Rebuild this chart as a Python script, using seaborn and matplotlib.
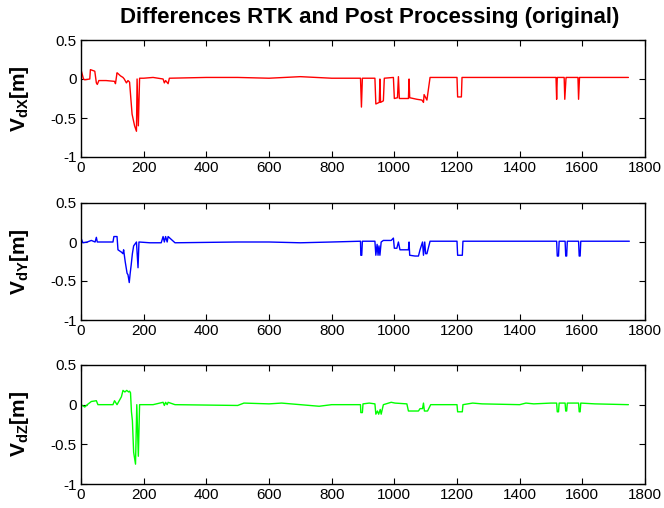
import numpy as np
import pandas as pd
import matplotlib
matplotlib.use('Agg')
import matplotlib.pyplot as plt
import seaborn as sns

# Differences RTK vs post processing (breakpoints)

dx_t = [0, 8, 12, 28, 30, 44, 49, 52, 57, 80, 107, 110, 115, 118, 126, 134, 138, 145, 150, 155,
        163, 171, 177, 179, 183, 187, 200, 230, 262, 266, 270, 278, 282, 400, 500, 600, 700, 800,
        892, 895, 898, 938, 941, 952, 954, 956, 965, 968, 997, 1000, 1010, 1013, 1016, 1045, 1047,
        1049, 1072, 1088, 1093, 1095, 1104, 1114, 1200, 1202, 1214, 1216, 1400, 1516, 1518, 1520,
        1522, 1542, 1544, 1548, 1550, 1586, 1588, 1591, 1593, 1747]
dx_v = [0.12, 0.0, -0.01, 0.0, 0.12, 0.1, -0.05, -0.07, -0.02, -0.02, -0.03, -0.06, 0.08, 0.07,
        0.04, 0.02, 0.0, -0.05, -0.02, -0.04, -0.45, -0.6, -0.67, 0.0, -0.6, 0.01, 0.01, 0.02,
        0.0, -0.05, -0.02, -0.06, 0.01, 0.02, 0.02, 0.01, 0.03, 0.01, 0.01, -0.36, 0.01, 0.01,
        -0.32, -0.3, 0.0, -0.3, -0.28, 0.01, 0.02, -0.25, -0.24, 0.03, -0.25, -0.25, 0.0, -0.24,
        -0.26, -0.27, -0.3, -0.2, -0.27, 0.02, 0.02, -0.23, -0.23, 0.02, 0.02, 0.02, -0.26, 0.02,
        0.02, 0.02, -0.26, 0.02, 0.02, 0.02, -0.26, 0.02, 0.02, 0.02]

dy_t = [0, 6, 20, 33, 45, 49, 52, 80, 102, 105, 115, 118, 129, 134, 136, 141, 147, 150, 154, 157,
        160, 164, 168, 177, 182, 185, 220, 256, 262, 266, 270, 275, 278, 300, 500, 600, 700, 800,
        892, 893, 896, 898, 938, 941, 945, 948, 951, 954, 958, 965, 990, 997, 1000, 1008, 1013,
        1018, 1045, 1047, 1049, 1066, 1077, 1082, 1090, 1093, 1097, 1100, 1104, 1114, 1200, 1202,
        1217, 1219, 1400, 1518, 1520, 1524, 1526, 1545, 1547, 1550, 1552, 1588, 1590, 1593, 1595,
        1750]
dy_v = [0.05, -0.01, 0.0, 0.02, 0.0, 0.06, 0.0, 0.0, 0.0, 0.07, 0.07, -0.1, -0.13, -0.15, -0.1,
        -0.25, -0.4, -0.42, -0.52, -0.4, -0.3, -0.15, -0.05, 0.0, -0.33, 0.0, -0.01, -0.01, 0.07,
        0.0, 0.07, 0.0, 0.07, -0.01, 0.0, 0.0, -0.01, 0.0, 0.01, -0.17, -0.17, 0.01, 0.01, -0.17,
        -0.03, -0.17, -0.05, -0.17, 0.0, 0.02, 0.02, 0.05, -0.08, -0.08, 0.0, -0.1, -0.1, 0.0,
        -0.17, -0.18, -0.18, -0.1, 0.0, -0.17, 0.0, -0.15, -0.15, 0.01, 0.01, -0.17, -0.17, 0.01,
        0.01, 0.01, -0.18, -0.18, 0.01, 0.01, -0.18, -0.18, 0.01, 0.01, -0.18, -0.18, 0.01, 0.01]

dz_t = [0, 12, 20, 33, 49, 54, 102, 107, 115, 129, 134, 140, 146, 152, 155, 158, 161, 164, 168,
        174, 178, 183, 187, 230, 262, 266, 270, 275, 278, 300, 500, 520, 600, 640, 700, 760, 800,
        892, 893, 898, 900, 920, 938, 941, 946, 950, 955, 958, 965, 990, 1002, 1040, 1045, 1077,
        1082, 1090, 1093, 1096, 1106, 1116, 1200, 1202, 1217, 1219, 1250, 1280, 1400, 1420, 1445,
        1500, 1518, 1520, 1524, 1526, 1545, 1547, 1550, 1552, 1588, 1590, 1593, 1595, 1640, 1747]
dz_v = [0.0, -0.03, 0.0, 0.04, 0.05, 0.0, 0.0, 0.05, 0.0, 0.1, 0.18, 0.16, 0.18, 0.16, 0.17, 0.15,
        -0.09, -0.2, -0.6, -0.75, 0.0, -0.65, 0.0, 0.0, 0.03, -0.01, 0.03, 0.0, 0.03, 0.0, -0.01,
        0.02, 0.01, 0.02, 0.0, -0.02, 0.0, 0.0, -0.1, -0.1, 0.01, 0.02, 0.01, -0.12, -0.08, -0.12,
        -0.06, -0.12, 0.0, 0.03, 0.02, 0.01, -0.08, -0.08, -0.05, -0.05, 0.02, -0.08, -0.08, 0.0,
        0.0, -0.09, -0.09, 0.0, 0.02, 0.01, 0.0, 0.02, 0.01, 0.02, 0.02, -0.09, -0.09, 0.02, 0.02,
        -0.08, -0.08, 0.02, 0.02, -0.09, -0.09, 0.02, 0.01, 0.0]

series = [
    (dx_t, dx_v, '#ff0000', r'$\mathbf{V_{dX}[m]}$'),
    (dy_t, dy_v, '#0000ff', r'$\mathbf{V_{dY}[m]}$'),
    (dz_t, dz_v, '#00ff00', r'$\mathbf{V_{dZ}[m]}$'),
]

sns.set_style('ticks', rc={'text.color': 'black', 'axes.labelcolor': 'black',
                           'xtick.color': 'black', 'ytick.color': 'black',
                           'axes.edgecolor': 'black'})
plt.rcParams['font.family'] = ['Liberation Sans', 'DejaVu Sans']
plt.rcParams['mathtext.fontset'] = 'custom'
plt.rcParams['mathtext.rm'] = 'Liberation Sans'
plt.rcParams['mathtext.bf'] = 'Liberation Sans:bold'

fig = plt.figure(figsize=(6.64, 5.08), dpi=100)
W, H = 664, 508
boxes = [(40, 157), (203, 320), (365, 484)]
left, right = 81, 645

for (t, v, col, lab), (top, bot) in zip(series, boxes):
    ax = fig.add_axes([left / W, 1 - bot / H, (right - left) / W, (bot - top) / H])
    df = pd.DataFrame({'t': t, 'v': v})
    sns.lineplot(data=df, x='t', y='v', ax=ax, color=col, linewidth=1.0, sort=False,
                 estimator=None)
    ax.set_xlim(0, 1800)
    ax.set_ylim(-1, 0.5)
    ax.set_xticks(np.arange(0, 1801, 200))
    ax.set_yticks([-1, -0.5, 0, 0.5])
    ax.set_yticklabels(['-1', '-0.5', '0', '0.5'])
    ax.tick_params(direction='in', top=True, right=True, length=4, width=0.8,
                   labelsize=11, pad=3, colors='black')
    for s in ax.spines.values():
        s.set_linewidth(1.0)
        s.set_visible(True)
    ax.set_xlabel('')
    ax.set_ylabel(lab, fontsize=15)
    ax.yaxis.set_label_coords(-0.088, 0.5)

fig.text(0.5 * (left + right) / W + 0.01, 1 - 18 / H, 'Differences RTK and Post Processing (original)',
         ha='center', va='center', fontsize=16, fontweight='bold', color='black')

fig.savefig('out.png', dpi=100)
